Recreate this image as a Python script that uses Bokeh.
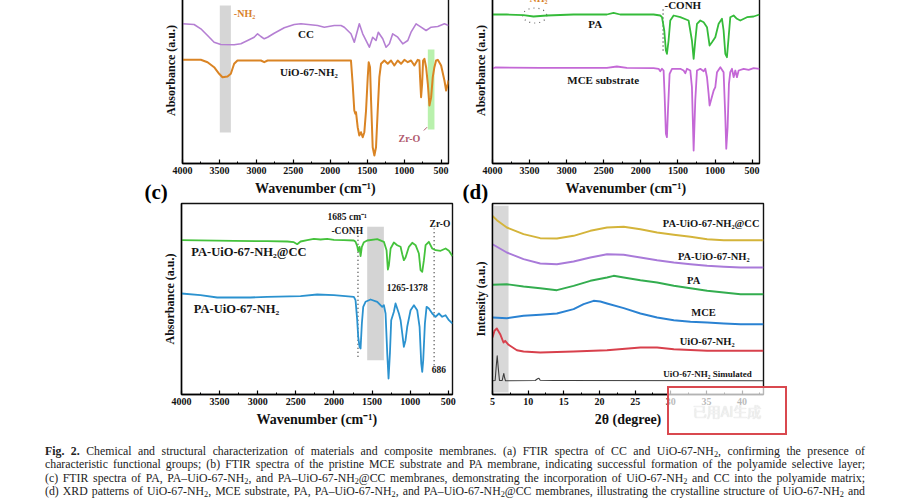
from bokeh.plotting import figure
from bokeh.models import Range1d, FixedTicker, Label, Div, BoxAnnotation
from bokeh.layouts import column, row
from bokeh.embed import file_html
from bokeh.resources import INLINE

# ---------------- data ----------------
# (a) FTIR, CC and UiO-67-NH2
a_cc_wn = [4000, 3843, 3752, 3661, 3572, 3481, 3301, 3210, 3119, 3030, 2984, 2939, 2894, 2848, 2759, 2623,
           2488, 2397, 2171, 2081, 1946, 1855, 1810, 1720, 1675, 1607, 1561, 1493, 1471, 1426, 1381, 1350,
           1290, 1245, 1200, 1155, 1087, 1019, 951, 907, 839, 771, 703, 635, 545, 455, 400]
a_cc_abs = [139.7, 139, 134.7, 128, 121.3, 119, 118.7, 119.7, 123, 126.3, 129.7, 127, 124.7, 126.3, 130.3, 135.7,
            139, 139.7, 138, 136.3, 138, 138, 136.3, 129.7, 121.3, 139.7, 129.7, 119.7, 116.3, 126.3, 123, 131.3,
            124.7, 116.3, 119.7, 129.7, 126.3, 119.7, 123, 131.3, 139.7, 136.3, 133, 136.3, 137, 139.7, 138]
a_uio_wn = [4000, 3752, 3661, 3572, 3504, 3459, 3391, 3346, 3301, 3256, 2939, 2894, 2848, 1720, 1697, 1675,
            1661, 1652, 1629, 1607, 1584, 1561, 1539, 1516, 1493, 1480, 1462, 1448, 1426, 1403, 1381, 1358,
            1336, 1313, 1268, 1222, 1178, 1133, 1087, 1042, 997, 951, 907, 862, 816, 794, 785, 771, 757, 744,
            726, 703, 680, 658, 635, 613, 591, 568, 545, 500, 455, 432, 409, 400]
a_uio_abs = [103.7, 103.7, 101.3, 96.3, 89.7, 86.3, 87, 89.7, 99.7, 103, 103, 101.3, 103, 103, 79.7, 53,
             49.7, 51.3, 36.3, 28, 31.3, 26.3, 31.3, 53, 86.3, 101.3, 96.3, 63, 16.3, 8, 16.3, 53,
             86.3, 99.7, 103, 99.7, 103, 98, 103, 99.7, 103.7, 101.3, 103, 98, 103.7, 103, 86.3, 66.3, 79.7, 103,
             104.7, 96.3, 79.7, 58, 66.3, 86.3, 96.3, 103, 103.7, 98, 83, 73, 79.7, 83]

# (b) FTIR, PA and MCE substrate
b_pa_wn = [4000, 3807, 3582, 3447, 3267, 2907, 2458, 2368, 2278, 2008, 1828, 1738, 1715, 1684, 1662, 1648,
           1626, 1603, 1558, 1468, 1356, 1311, 1288, 1266, 1243, 1198, 1153, 1108, 1073, 1041, 996, 951,
           906, 884, 861, 839, 816, 794, 749, 704, 659, 569, 479, 400]
b_pa_abs = [149, 149, 148.3, 147, 148, 149, 149, 150.7, 149, 149, 149, 148, 146.3, 133, 113, 109.7,
            123, 143, 148, 146.3, 143, 123, 104.7, 123, 139.7, 143, 141.3, 136.3, 118, 121.3, 126.3, 139.7,
            144.7, 133, 109.7, 106.3, 126.3, 146.3, 148, 144.7, 143, 146.3, 147, 149]
b_mce_wn = [4000, 3964, 3357, 2458, 2323, 2188, 1828, 1760, 1738, 1715, 1693, 1680, 1662, 1648, 1634, 1612,
            1580, 1468, 1423, 1400, 1378, 1333, 1311, 1288, 1266, 1243, 1198, 1153, 1131, 1108, 1086, 1073,
            1055, 1018, 996, 973, 928, 884, 861, 848, 830, 812, 794, 771, 749, 726, 704, 681, 614, 546, 479, 400]
b_mce_abs = [95, 96, 95.7, 95.7, 97, 95.7, 95.3, 94.7, 92.3, 94.7, 93, 69.7, 29.7, 26.3, 53, 89.7,
             94.7, 94.7, 93, 90.3, 94.7, 93, 76.3, 13, 63, 93, 94.7, 92.3, 94.7, 86.3, 69.7, 58,
             63, 73, 76.3, 91.3, 96.3, 91.3, 46.3, 14.7, 36.3, 79.7, 91.3, 94.7, 86.3, 93, 86.3, 93, 94.7, 93.7,
             95.3, 94.7]

# (c) FTIR, PA-UiO-67-NH2@CC and PA-UiO-67-NH2
c_cc_wn = [4000, 3313, 2876, 2613, 2526, 2482, 2438, 2351, 2264, 2176, 2089, 2001, 1870, 1739, 1717, 1695,
           1682, 1664, 1651, 1634, 1607, 1564, 1432, 1345, 1310, 1293, 1279, 1257, 1214, 1170, 1126, 1104,
           1083, 1061, 1017, 973, 929, 886, 864, 842, 820, 798, 755, 711, 667, 601, 536, 492, 445]
c_cc_abs = [154.3, 153.7, 153.3, 153, 152.3, 150.3, 153, 154.3, 155.7, 155, 155.7, 154.7, 154.3, 154, 152.7, 148.3,
            143.3, 147.7, 138.3, 147.7, 152.3, 154, 155.3, 152.7, 144.3, 125, 129.3, 146, 152, 149.3, 147.7, 140.3,
            134.3, 137, 147.7, 151.7, 149.3, 141, 124.3, 122.7, 134.3, 149.3, 152.7, 146, 144.3, 143.7, 146, 143.7,
            138.3]
c_uio_wn = [4000, 3751, 3532, 3095, 2876, 2438, 2220, 2001, 1739, 1717, 1695, 1682, 1664, 1651, 1634, 1616,
            1586, 1520, 1432, 1367, 1345, 1323, 1301, 1284, 1266, 1249, 1214, 1192, 1148, 1126, 1104, 1083,
            1061, 1039, 995, 951, 908, 877, 855, 842, 829, 807, 785, 755, 711, 667, 623, 580, 536, 492, 445]
c_uio_abs = [101, 99.3, 97, 97, 97.7, 98.3, 100, 99.3, 97.7, 94.3, 74.3, 57.7, 47.7, 46, 71, 87.7,
             92.7, 95, 92.7, 87.7, 89.3, 81, 41, 16, 41, 74.3, 82.7, 91, 81, 74.3, 61, 47.7,
             54.3, 67.7, 84.3, 89.3, 84.3, 67.7, 31, 22.7, 34.3, 71, 87.7, 86, 81, 77.7, 81, 77.7, 79.3, 74.3, 71]

# (d) XRD
d_ccm_2t = [5.0, 5.61, 7.01, 9.35, 11.69, 14.03, 16.37, 18.72, 21.06, 23.40, 25.74, 28.08, 30.42, 32.76, 35.10,
            37.44, 39.78, 43.0]
d_ccm_int = [178.7, 174.3, 167, 160.3, 156.3, 156, 158.7, 163.7, 167, 167.7, 165.3, 162, 159.7, 157.7, 155.3,
             154.3, 154.3, 154.3]
d_pauio_2t = [5.0, 7.01, 9.35, 11.69, 14.03, 16.37, 18.72, 21.06, 23.40, 25.74, 28.08, 30.42, 32.76, 35.10,
              37.44, 39.78, 43.0]
d_pauio_int = [150.3, 142, 135.3, 131, 130.3, 133, 137, 140.3, 139.7, 137, 134.3, 132, 130.3, 128.7, 127.7, 127, 127]
d_pa_2t = [5.0, 7.01, 9.35, 11.69, 14.03, 16.37, 18.72, 21.06, 21.99, 23.40, 25.74, 28.08, 30.42, 32.76, 35.10,
           37.44, 39.78, 43.0]
d_pa_int = [109.7, 110.3, 108, 106.3, 104.3, 108.7, 113.7, 117, 118.7, 117, 114.3, 112, 108.7, 106.3, 103.7, 102,
            100.3, 100.3]
d_mce_2t = [5.0, 7.01, 9.35, 11.69, 14.03, 16.37, 17.78, 19.18, 20.12, 21.06, 23.40, 25.74, 28.08, 30.42, 32.76,
            35.10, 37.44, 39.78, 43.0]
d_mce_int = [77, 76.3, 78.7, 79.7, 81, 85.3, 90.3, 93.7, 93, 91, 86.3, 81, 77, 74.3, 72.7, 72, 71, 70.3, 70.3]
d_uio_2t = [5.0, 5.28, 5.61, 6.08, 6.54, 6.78, 7.25, 8.42, 9.35, 11.69, 16.37, 21.06, 25.74, 28.08, 30.42, 35.10, 43.0]
d_uio_int = [57, 63.7, 66, 60.3, 52, 53.7, 49.7, 44.3, 43, 42, 43, 44.3, 47, 47, 45.3, 43.7, 43.7]
d_sim_2t = [5.0, 5.37, 5.51, 5.66, 5.80, 5.98, 6.36, 6.50, 6.59, 6.69, 6.83, 10.99, 11.32, 11.51, 11.69, 13.57, 43.0]
d_sim_int = [13.7, 14, 27, 38.7, 27, 14, 14, 18.7, 21, 17, 13.7, 14, 15.7, 16.3, 14.3, 14, 13.7]

ftir_ticks = [4000, 3500, 3000, 2500, 2000, 1500, 1000, 500]
ftir_minor = [3750, 3250, 2750, 2250, 1750, 1250, 750]
xrd_ticks = [5, 10, 15, 20, 25, 30, 35, 40]
xrd_minor = [7.5, 12.5, 17.5, 22.5, 27.5, 32.5, 37.5, 42.5]

SERIF = "Liberation Serif"


def make_fig(xr, yr, fw, fh, mbl, mbr, mbt, mbb, xticks, xminor, xlabel, ylabel, panel=None, panel_offset=0):
    p = figure(x_range=xr, y_range=yr, frame_width=fw, frame_height=fh,
               min_border_left=mbl, min_border_right=mbr, min_border_top=mbt, min_border_bottom=mbb,
               output_backend="svg", toolbar_location=None, tools="", margin=0)
    if panel:
        p.title.text = panel
        p.title.align = "left"
        p.title.offset = panel_offset
        p.title.standoff = 0
        p.title.text_font = SERIF
        p.title.text_font_style = "bold"
        p.title.text_font_size = "21px"
        p.title.text_color = "#000000"
    p.border_fill_color = None
    p.background_fill_color = None
    p.grid.visible = False
    p.outline_line_color = "#111111"
    p.outline_line_width = 1.4
    xa = p.xaxis[0]
    xa.ticker = FixedTicker(ticks=xticks, minor_ticks=xminor)
    xa.major_tick_in = 4
    xa.major_tick_out = 0
    xa.minor_tick_in = 2
    xa.minor_tick_out = 0
    xa.axis_line_width = 1.4
    xa.major_tick_line_width = 1.2
    xa.major_label_text_font = SERIF
    xa.major_label_text_font_style = "bold"
    xa.major_label_text_font_size = "10px"
    xa.major_label_text_color = "#111111"
    xa.major_label_standoff = 3
    xa.axis_label = xlabel
    xa.axis_label_text_font = SERIF
    xa.axis_label_text_font_style = "bold"
    xa.axis_label_text_font_size = "14px"
    xa.axis_label_text_color = "#111111"
    xa.axis_label_standoff = 4
    ya = p.yaxis[0]
    ya.ticker = FixedTicker(ticks=[])
    ya.major_tick_line_color = None
    ya.minor_tick_line_color = None
    ya.axis_line_width = 1.4
    ya.axis_label = ylabel
    ya.axis_label_text_font = SERIF
    ya.axis_label_text_font_style = "bold"
    ya.axis_label_text_font_size = "12px"
    ya.axis_label_text_color = "#111111"
    ya.axis_label_standoff = 5
    return p


def lab(p, x, y, text, size="11px", color="#151515", align="center", bold=True):
    p.add_layout(Label(x=x, y=y, text=text, text_font=SERIF, text_font_size=size,
                       text_font_style="bold" if bold else "normal", text_color=color,
                       text_align=align, text_baseline="middle"))


# ---------------- (a) ----------------
pa = make_fig(Range1d(4000, 400), Range1d(0, 186), 266, 186, 182, 12, 0, 36,
              ftir_ticks, ftir_minor, "Wavenumber (cm⁻¹)", "Absorbance (a.u.)")
pa.add_layout(BoxAnnotation(left=3345, right=3495, bottom=31, top=158, fill_color="#d2d2d2",
                            fill_alpha=0.9, line_color=None, level="underlay"))
pa.add_layout(BoxAnnotation(left=590, right=680, bottom=34, top=114, fill_color="#a8ee98",
                            fill_alpha=0.8, line_color=None, level="underlay"))
pa.line(a_cc_wn, a_cc_abs, line_color="#b57fd3", line_width=1.6, line_join="round")
pa.line(a_uio_wn, a_uio_abs, line_color="#da8424", line_width=2, line_join="round")
pa.line([734, 690], [33, 36.3], line_color="#b05a6e", line_width=1)
lab(pa, 3305, 150, "-NH₂", size="10px", color="#d9822b", align="left")
lab(pa, 2330, 130, "CC")
lab(pa, 2289, 92, "UiO-67-NH₂")
lab(pa, 929, 24.7, "Zr-O", size="10px", color="#b05a6e")

# ---------------- (b) ----------------
pb = make_fig(Range1d(4000, 400), Range1d(0, 186), 267, 186, 32, 141, 0, 36,
              ftir_ticks, ftir_minor, "Wavenumber (cm⁻¹)", "Absorbance (a.u.)")
pb.ellipse(x=[3430], y=[148], width=324, height=15, fill_color=None, line_color="#666666",
           line_width=1.2, line_dash="1 4")
pb.line([1700, 1700], [113, 156], line_color="#333333", line_width=1.3, line_dash="1 3")
pb.line(b_pa_wn, b_pa_abs, line_color="#35bb3a", line_width=1.8, line_join="round")
pb.line(b_mce_wn, b_mce_abs, line_color="#c468d6", line_width=1.8, line_join="round")
lab(pb, 3401, 165, "-NH₂", size="10px", color="#d9822b")
lab(pb, 2615, 140, "PA")
lab(pb, 2508, 84, "MCE substrate")
lab(pb, 1434, 159, "-CONH")

# ---------------- (c) ----------------
pc = make_fig(Range1d(4000, 445), Range1d(0, 191), 271, 191, 181, 8, 26, 45,
              ftir_ticks, ftir_minor, "Wavenumber (cm⁻¹)", "Absorbance (a.u.)",
              panel="(c)", panel_offset=-37)
pc.add_layout(BoxAnnotation(left=1345, right=1564, bottom=34.3, top=167.7, fill_color="#cfcfcf",
                            fill_alpha=0.9, line_color=None, level="underlay"))
pc.line([1685, 1685], [37.7, 159.3], line_color="#333333", line_width=1.3, line_dash="1 3")
pc.line([686, 686], [29.3, 166], line_color="#333333", line_width=1.3, line_dash="1 3")
pc.line(c_cc_wn, c_cc_abs, line_color="#45c23c", line_width=1.8, line_join="round")
pc.line(c_uio_wn, c_uio_abs, line_color="#2b92cf", line_width=1.8, line_join="round")
lab(pc, 1826, 177.7, "1685 cm⁻¹", size="9.5px")
lab(pc, 1826, 163.7, "-CONH", size="9.5px")
lab(pc, 610, 171, "Zr-O", size="9.5px")
lab(pc, 1039, 107, "1265-1378", size="9.5px")
lab(pc, 623, 25, "686", size="9.5px")
lab(pc, 3116, 142.7, "PA-UiO-67-NH₂@CC", size="12.5px")
lab(pc, 3278, 86, "PA-UiO-67-NH₂", size="12.5px")

# ---------------- (d) ----------------
pd_ = make_fig(Range1d(5, 43), Range1d(0, 191), 271, 191, 32, 137, 26, 45,
               xrd_ticks, xrd_minor, "2θ (degree)", "Intensity (a.u.)",
               panel="(d)", panel_offset=-30)
pd_.add_layout(BoxAnnotation(left=5, right=7.25, bottom=2, top=188.7, fill_color="#d4d4d4",
                             fill_alpha=0.9, line_color=None, level="underlay"))
pd_.line(d_ccm_2t, d_ccm_int, line_color="#d4b43a", line_width=1.9, line_join="round")
pd_.line(d_pauio_2t, d_pauio_int, line_color="#a97ad9", line_width=1.9, line_join="round")
pd_.line(d_pa_2t, d_pa_int, line_color="#33ad4f", line_width=1.9, line_join="round")
pd_.line(d_mce_2t, d_mce_int, line_color="#2a82d2", line_width=1.9, line_join="round")
pd_.line(d_uio_2t, d_uio_int, line_color="#d8404c", line_width=1.9, line_join="round")
pd_.line(d_sim_2t, d_sim_int, line_color="#3d3d3d", line_width=1.1, line_join="round")
lab(pd_, 35.66, 171, "PA-UiO-67-NH₂@CC", size="10.5px")
lab(pd_, 36.03, 137.7, "PA-UiO-67-NH₂", size="10.5px")
lab(pd_, 33.2, 114.3, "PA", size="10.5px")
lab(pd_, 34.6, 82, "MCE", size="10.5px")
lab(pd_, 35.1, 52.7, "UiO-67-NH₂", size="10.5px")
lab(pd_, 35.15, 21, "UiO-67-NH₂ Simulated", size="9px")

# ---------------- caption (with the red watermark frame of the screenshot) ----------------
sub = '<span style="font-size:0.7em;line-height:0;vertical-align:-0.2em">2</span>'
lines = [
    "<b>Fig. 2.</b> Chemical and structural characterization of materials and composite membranes. "
    "(a) FTIR spectra of CC and UiO-67-NH" + sub + ", confirming the presence of",
    "characteristic functional groups; (b) FTIR spectra of the pristine MCE substrate and PA membrane, "
    "indicating successful formation of the polyamide selective layer;",
    "(c) FTIR spectra of PA, PA–UiO-67-NH" + sub + ", and PA–UiO-67-NH" + sub + "@CC membranes, "
    "demonstrating the incorporation of UiO-67-NH" + sub + " and CC into the polyamide matrix;",
    "(d) XRD patterns of UiO-67-NH" + sub + ", MCE substrate, PA, PA–UiO-67-NH" + sub + ", and PA–UiO-67-NH"
    + sub + "@CC membranes, illustrating the crystalline structure of UiO-67-NH" + sub + " and",
]
box = ('<div style="position:absolute;left:667px;top:-53px;width:120px;height:49px;box-sizing:border-box;'
       'border:2px solid #d9484f;background:rgba(255,255,255,0.7);display:flex;align-items:center;'
       'justify-content:center;font-family:\'Noto Sans CJK SC\',sans-serif;font-size:14px;color:#f1f1f1;'
       'text-shadow:0 0 1px #cfcfcf;z-index:5;">已用AI生成</div>')
html = ('<div style="position:relative;width:900px;height:61px;overflow:visible;">' + box +
        '<div style="font-family:\'Liberation Serif\',serif;font-size:11.8px;line-height:13.4px;color:#222;'
        'width:820px;margin-left:45px;padding-top:6px;">'
        + "".join('<div style="text-align:justify;text-align-last:justify;white-space:nowrap;">%s</div>' % l
                  for l in lines)
        + "</div></div>")
cap = Div(text=html, width=900, height=61, margin=0, styles={"overflow": "visible", "z-index": "5"})

r1 = row(pa, pb, margin=(-23, 0, 0, 0), spacing=0)
r2 = row(pc, pd_, margin=(-22, 0, 0, 0), spacing=0)
lay = column(r1, r2, cap, margin=0, spacing=0)

open("out.html", "w").write(file_html(lay, INLINE))
